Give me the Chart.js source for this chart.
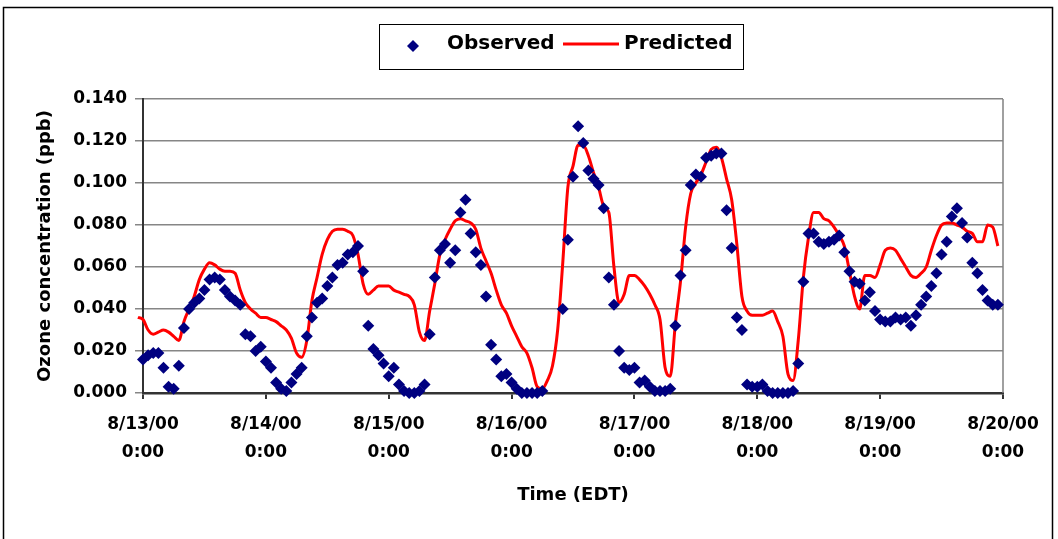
<!DOCTYPE html>
<html>
<head>
<meta charset="utf-8">
<script src="https://cdn.jsdelivr.net/npm/chart.js@4.4.0/dist/chart.umd.min.js"></script>
<style>
  html, body { margin: 0; padding: 0; background: #fff; }
</style>
</head>
<body>
<canvas id="chart" width="1058" height="539"></canvas>
<script>
// hours after 8/13/00 0:00
const obsHours = [0,1,2,3,4,5,6,7,8,9,10,11,12,13,14,15,16,17,18,19,20,21,22,23,
  24,25,26,27,28,29,30,31,32,33,34,35,36,37,38,39,40,41,42,43,44,45,46,47,
  48,49,50,51,52,53,54,55,56,57,58,59,60,61,62,63,64,65,66,67,68,69,70,71,
  72,73,74,75,76,77,78,82,83,84,85,86,87,88,89,90,91,92,93,94,95,
  96,97,98,99,100,101,102,103,104,105,106,107,108,109,110,111,112,113,114,115,116,117,118,119,
  120,121,122,123,124,125,126,127,128,129,130,131,132,133,134,135,136,137,138,139,140,141,142,143,
  144,145,146,147,148,149,150,151,152,153,154,155,156,157,158,159,160,161,162,163,164,165,166,167];
const obsValues = [0.016,0.018,0.019,0.019,0.012,0.003,0.002,0.013,0.031,0.040,0.043,0.045,0.049,0.054,0.055,0.054,0.049,0.046,0.044,0.042,0.028,0.027,0.020,0.022,
  0.015,0.012,0.005,0.002,0.001,0.005,0.009,0.012,0.027,0.036,0.043,0.045,0.051,0.055,0.061,0.062,0.066,0.067,0.070,0.058,0.032,0.021,0.018,0.014,
  0.008,0.012,0.004,0.001,0.000,0.000,0.001,0.004,0.028,0.055,0.068,0.071,0.062,0.068,0.086,0.092,0.076,0.067,0.061,0.046,0.023,0.016,0.008,0.009,
  0.005,0.002,0.000,0.000,0.000,0.000,0.001,0.040,0.073,0.103,0.127,0.119,0.106,0.102,0.099,0.088,0.055,0.042,0.020,0.012,0.011,
  0.012,0.005,0.006,0.003,0.001,0.001,0.001,0.002,0.032,0.056,0.068,0.099,0.104,0.103,0.112,0.113,0.114,0.114,0.087,0.069,0.036,0.030,0.004,0.003,
  0.003,0.004,0.001,0.000,0.000,0.000,0.000,0.001,0.014,0.053,0.076,0.076,0.072,0.071,0.072,0.073,0.075,0.067,0.058,0.053,0.052,0.044,0.048,0.039,
  0.035,0.034,0.034,0.036,0.035,0.036,0.032,0.037,0.042,0.046,0.051,0.057,0.066,0.072,0.084,0.088,0.081,0.074,0.062,0.057,0.049,0.044,0.042,0.042];

const predHours = [-1,0,1,2,3,4,5,6,7,8,9,10,11,12,13,14,15,16,17,18,19,20,21,22,23,
  24,25,26,27,28,29,30,31,32,33,34,35,36,37,38,39,40,41,42,43,44,45,46,47,
  48,49,50,51,52,53,54,55,56,57,58,59,60,61,62,63,64,65,66,67,68,69,70,71,
  72,73,74,75,76,77,78,79,80,81,82,83,84,85,86,87,88,89,90,91,92,93,94,95,
  96,97,98,99,100,101,102,103,104,105,106,107,108,109,110,111,112,113,114,115,116,117,118,119,
  120,121,122,123,124,125,126,127,128,129,130,131,132,133,134,135,136,137,138,139,140,141,142,143,
  144,145,146,147,148,149,150,151,152,153,154,155,156,157,158,159,160,161,162,163,164,165,166,167];
const predValues = [0.036,0.035,0.030,0.028,0.029,0.030,0.029,0.027,0.025,0.034,0.040,0.046,0.054,0.059,0.062,0.061,0.059,0.058,0.058,0.057,0.049,0.043,0.040,0.038,0.036,
  0.036,0.035,0.034,0.032,0.030,0.026,0.019,0.017,0.025,0.044,0.055,0.066,0.073,0.077,0.078,0.078,0.077,0.075,0.066,0.052,0.047,0.049,0.051,0.051,
  0.051,0.049,0.048,0.047,0.046,0.042,0.029,0.025,0.039,0.052,0.066,0.073,0.078,0.082,0.083,0.082,0.081,0.078,0.069,0.063,0.057,0.049,0.042,0.038,
  0.032,0.027,0.022,0.019,0.012,0.003,0.002,0.006,0.013,0.030,0.062,0.098,0.108,0.118,0.118,0.113,0.105,0.098,0.089,0.086,0.060,0.043,0.047,0.056,
  0.056,0.054,0.051,0.047,0.042,0.035,0.012,0.008,0.033,0.053,0.079,0.095,0.100,0.104,0.110,0.116,0.117,0.112,0.102,0.092,0.071,0.046,0.039,0.037,
  0.037,0.037,0.038,0.039,0.034,0.027,0.009,0.006,0.025,0.055,0.074,0.086,0.086,0.083,0.082,0.079,0.075,0.070,0.058,0.046,0.040,0.056,0.056,0.055,
  0.061,0.068,0.069,0.068,0.064,0.060,0.056,0.055,0.057,0.060,0.068,0.075,0.080,0.081,0.081,0.080,0.079,0.077,0.076,0.072,0.072,0.080,0.079,0.070];

const dayLabels = ['8/13/00', '8/14/00', '8/15/00', '8/16/00', '8/17/00', '8/18/00', '8/19/00', '8/20/00'];
const timeLabel = '0:00';
const seriesNames = ['Observed', 'Predicted'];

const FONT = "'DejaVu Sans', sans-serif";
Chart.defaults.font.family = FONT;
Chart.defaults.font.weight = 'bold';
Chart.defaults.color = '#000';

// outer frame, right edge of plot and the boxed legend
const framePlugin = {
  id: 'frame',
  beforeDraw(chart) {
    const ctx = chart.ctx;
    ctx.save();
    ctx.fillStyle = '#fff';
    ctx.fillRect(0, 0, chart.width, chart.height);
    ctx.strokeStyle = '#000';
    ctx.lineWidth = 1.5;
    ctx.strokeRect(3.5, 7.5, 1049, 560);
    ctx.restore();
  },
  beforeDatasetsDraw(chart) {
    const a = chart.chartArea, ctx = chart.ctx;
    ctx.save();
    ctx.strokeStyle = '#808080';
    ctx.lineWidth = 1.5;
    ctx.beginPath();
    ctx.moveTo(a.right, a.top);
    ctx.lineTo(a.right, a.bottom);
    ctx.stroke();
    ctx.restore();
  },
  afterDraw(chart) {
    const ctx = chart.ctx;
    ctx.save();
    ctx.strokeStyle = '#000';
    ctx.lineWidth = 1;
    ctx.strokeRect(379.5, 24.5, 364, 45);
    // diamond
    ctx.fillStyle = '#000080';
    ctx.beginPath();
    ctx.moveTo(413, 40); ctx.lineTo(419, 46); ctx.lineTo(413, 52); ctx.lineTo(407, 46);
    ctx.closePath();
    ctx.fill();
    // red line
    ctx.strokeStyle = '#ff0000';
    ctx.lineWidth = 3;
    ctx.beginPath();
    ctx.moveTo(563, 44); ctx.lineTo(619, 44);
    ctx.stroke();
    ctx.fillStyle = '#000';
    ctx.font = 'bold 20px ' + FONT;
    ctx.textBaseline = 'middle';
    ctx.fillText(seriesNames[0], 447, 44);
    ctx.fillText(seriesNames[1], 624, 44);
    ctx.restore();
  }
};

const ctx = document.getElementById('chart').getContext('2d');
new Chart(ctx, {
  type: 'scatter',
  data: {
    datasets: [{
      label: seriesNames[0],
      data: obsHours.map((h, i) => ({x: h, y: obsValues[i]})),
      showLine: false,
      pointStyle: 'rectRot',
      pointRadius: 6,
      pointBorderWidth: 0,
      pointBackgroundColor: '#000080',
      pointBorderColor: '#000080',
      clip: false
    }, {
      label: seriesNames[1],
      type: 'line',
      data: predHours.map((h, i) => ({x: h, y: predValues[i]})),
      borderColor: '#ff0000',
      borderWidth: 3,
      pointRadius: 0,
      fill: false,
      cubicInterpolationMode: 'monotone',
      clip: false
    }]
  },
  options: {
    responsive: false,
    animation: false,
    layout: {padding: {top: 99, right: 55, bottom: 0, left: 0}},
    plugins: {
      legend: {display: false},
      tooltip: {enabled: false}
    },
    scales: {
      x: {
        type: 'linear',
        min: 0,
        max: 168,
        afterFit: s => { s.height = 146; },
        afterBuildTicks: s => { s.ticks = dayLabels.map((d, i) => ({value: i * 24})); },
        ticks: {
          font: {size: 17, weight: 'bold', lineHeight: 1.65},
          padding: 12,
          maxRotation: 0,
          autoSkip: false,
          callback: (v) => [dayLabels[Math.round(v / 24)], timeLabel]
        },
        grid: {drawOnChartArea: false, drawTicks: true, tickLength: 6, color: '#333', lineWidth: 2},
        border: {color: '#333', width: 2.5},
        title: {
          display: true,
          text: 'Time (EDT)',
          font: {size: 18, weight: 'bold'},
          padding: {top: 0, bottom: 33}
        }
      },
      y: {
        min: 0,
        max: 0.14,
        afterFit: s => { s.width = 143; },
        ticks: {
          stepSize: 0.02,
          font: {size: 17, weight: 'bold'},
          padding: 8,
          callback: v => v.toFixed(3)
        },
        grid: {color: '#868686', lineWidth: 1.5, tickLength: 8},
        border: {color: '#333', width: 2},
        title: {
          display: true,
          text: 'Ozone concentration (ppb)',
          font: {size: 18, weight: 'bold'},
          padding: {top: 35, bottom: 0}
        }
      }
    }
  },
  plugins: [framePlugin]
});
</script>
</body>
</html>
